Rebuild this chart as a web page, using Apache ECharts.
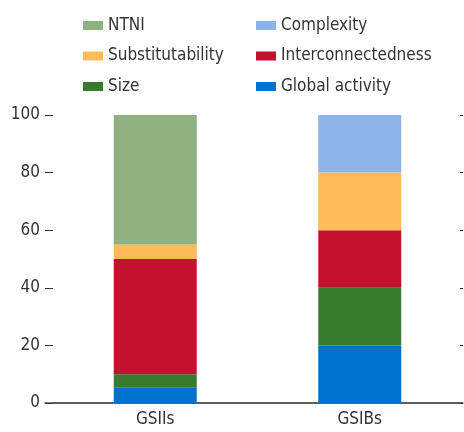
<!DOCTYPE html>
<html>
<head>
<meta charset="UTF-8">
<script src="https://cdn.jsdelivr.net/npm/echarts@6/dist/echarts.min.js"></script>
<style>
  * { margin: 0; padding: 0; }
  #main { width: 464px; height: 432px; background: #fff; }
</style>
</head>
<body>
<div id="main"></div>
<script>
  var categories = ['GSIIs', 'GSIBs'];
  var globalActivity = [5.5, 20];
  var size = [4.5, 20];
  var interconnectedness = [40, 20];
  var substitutability = [5, 20];
  var complexity = [0, 20];
  var ntni = [45, 0];
  var yTicks = [0, 20, 40, 60, 80, 100];

  var font = "'DejaVu Sans Condensed', 'Liberation Sans', sans-serif";
  var textColor = '#333';

  var chart = echarts.init(document.getElementById('main'));

  function bar(name, data, color) {
    return {
      name: name,
      type: 'bar',
      stack: 'total',
      data: data,
      barWidth: 83,
      itemStyle: { color: color },
      xAxisIndex: 0,
      yAxisIndex: 0
    };
  }

  var legendText = { fontFamily: font, fontSize: 17, color: textColor };

  var option = {
    animation: false,
    textStyle: { fontFamily: font },
    legend: [
      {
        orient: 'vertical',
        left: 78,
        top: 12,
        itemWidth: 20,
        itemHeight: 9,
        itemGap: 13.5,
        icon: 'rect',
        textStyle: legendText,
        data: ['NTNI', 'Substitutability', 'Size']
      },
      {
        orient: 'vertical',
        left: 251,
        top: 12,
        itemWidth: 20,
        itemHeight: 9,
        itemGap: 13.5,
        icon: 'rect',
        textStyle: legendText,
        data: ['Complexity', 'Interconnectedness', 'Global activity']
      }
    ],
    grid: [
      { left: 53, right: 2, top: 115, bottom: 29 },
      { left: 45, right: 1, top: 115, bottom: 29 }
    ],
    xAxis: [
      {
        type: 'category',
        data: categories,
        gridIndex: 0,
        axisLine: { lineStyle: { color: '#555', width: 1.5 } },
        axisTick: { inside: true, length: 8, lineStyle: { color: '#333' } },
        axisLabel: { fontFamily: font, fontSize: 17, color: textColor, margin: 8 }
      },
      {
        type: 'category',
        data: categories,
        gridIndex: 1,
        axisLine: { lineStyle: { color: '#555', width: 1.5 } },
        axisTick: { show: false },
        axisLabel: { show: false }
      }
    ],
    yAxis: [
      {
        type: 'value',
        gridIndex: 0,
        min: yTicks[0],
        max: yTicks[yTicks.length - 1],
        interval: 20,
        axisLine: { show: false },
        axisTick: { show: true, length: 8, lineStyle: { color: '#333' } },
        splitLine: { show: false },
        axisLabel: { fontFamily: font, fontSize: 17, color: textColor, margin: 13 }
      },
      {
        type: 'value',
        gridIndex: 1,
        position: 'right',
        min: yTicks[0],
        max: yTicks[yTicks.length - 1],
        interval: 20,
        axisLine: { show: false },
        axisTick: { show: true, inside: true, length: 3, lineStyle: { color: '#333' } },
        splitLine: { show: false },
        axisLabel: { show: false }
      }
    ],
    series: [
      bar('Global activity', globalActivity, '#0071CD'),
      bar('Size', size, '#397B2E'),
      bar('Interconnectedness', interconnectedness, '#C4112F'),
      bar('Substitutability', substitutability, '#FDBC57'),
      bar('Complexity', complexity, '#8DB4E8'),
      bar('NTNI', ntni, '#8FB07F')
    ]
  };

  chart.setOption(option);
</script>
</body>
</html>
